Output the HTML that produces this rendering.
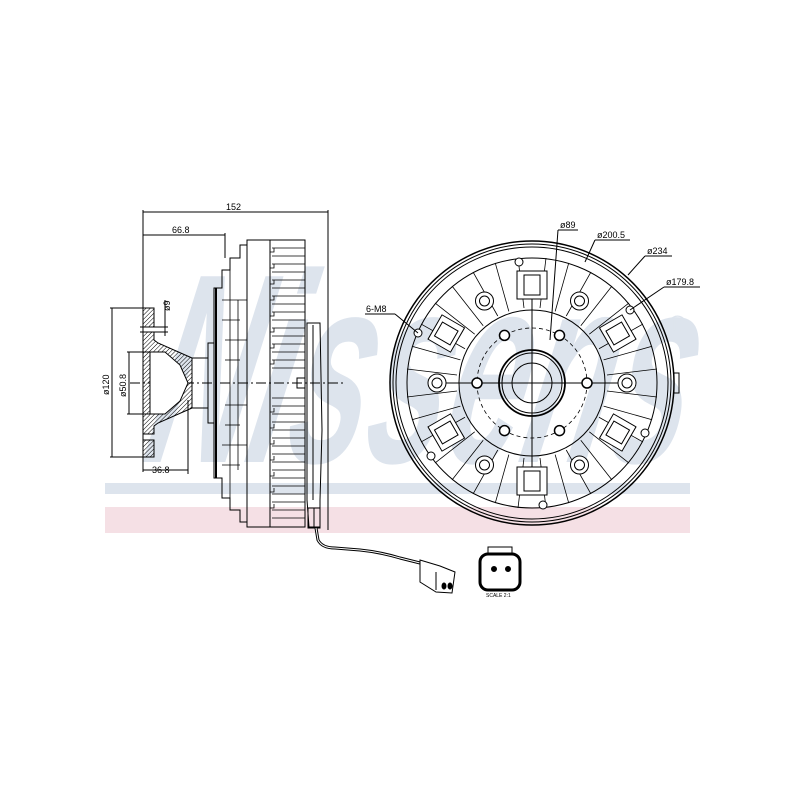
<!DOCTYPE html>
<html><head><meta charset="utf-8"><style>html,body{margin:0;padding:0;background:#fff}svg{display:block}</style></head>
<body>
<svg width="800" height="800" viewBox="0 0 800 800" xmlns="http://www.w3.org/2000/svg" font-family="Liberation Sans, sans-serif">
<defs>
<pattern id="h" width="3" height="3" patternUnits="userSpaceOnUse" patternTransform="rotate(45)"><line x1="0" y1="0" x2="0" y2="3" stroke="#000" stroke-width="1"/></pattern>
</defs>
<!-- watermark -->
<text x="0" y="0" font-size="270" font-weight="bold" font-style="italic" fill="#dde4ed" textLength="540" lengthAdjust="spacingAndGlyphs" transform="translate(140,462) skewX(-12)">Nissens</text>
<text x="668" y="334" font-size="26" fill="#dde4ed">®</text>
<rect x="105" y="483" width="585" height="11" fill="#dde4ed"/>
<rect x="105" y="507" width="585" height="26" fill="#f5e0e5"/>

<g stroke="#000" fill="none" stroke-width="1">
<!-- dimensions left -->
<line x1="143" y1="212" x2="328" y2="212"/>
<line x1="143" y1="235" x2="225" y2="235"/>
<line x1="143" y1="210" x2="143" y2="472"/>
<line x1="328" y1="210" x2="328" y2="530"/>
<line x1="225" y1="233" x2="225" y2="258"/>
<line x1="110" y1="308" x2="143" y2="308"/>
<line x1="110" y1="457" x2="143" y2="457"/>
<line x1="112" y1="308" x2="112" y2="457"/>
<line x1="127" y1="352" x2="150" y2="352"/>
<line x1="127" y1="414" x2="150" y2="414"/>
<line x1="129" y1="352" x2="129" y2="414"/>
<line x1="165" y1="300" x2="165" y2="336"/>
<line x1="140" y1="327" x2="168" y2="327"/>
<line x1="140" y1="332" x2="168" y2="332"/>
<line x1="143" y1="470" x2="188" y2="470"/>
<line x1="188" y1="400" x2="188" y2="474"/>
<line x1="130" y1="383" x2="345" y2="383" stroke-dasharray="10,3,2,3"/>
<!-- flange hatched -->
<path d="M143,308 L154,308 L154,327 L143,327 Z M143,332 L154,332 L154,340 L158,343 L192,358 L192,408 L158,423 L154,426 L154,434 L143,434 Z M143,440 L154,440 L154,457 L143,457 Z" fill="url(#h)"/>
<path d="M150,352 L165,352 L180,365 L188,383 L180,401 L165,414 L150,414 Z" fill="#fff"/>
<rect x="192" y="358" width="16" height="50"/>
<rect x="208" y="343" width="6" height="80"/>
<!-- plate steps -->
<path d="M214,288 L222,288 L222,270 L230,270 L230,258 L240,258 L240,245 L247,245 L247,522 L240,522 L240,510 L230,510 L230,498 L222,498 L222,478 L214,478 Z"/>
<g stroke-width="0.8">
<line x1="222" y1="300" x2="247" y2="300"/><line x1="222" y1="320" x2="240" y2="320"/><line x1="225" y1="340" x2="247" y2="340"/><line x1="225" y1="360" x2="240" y2="360"/><line x1="225" y1="405" x2="247" y2="405"/><line x1="225" y1="425" x2="240" y2="425"/><line x1="222" y1="445" x2="247" y2="445"/><line x1="222" y1="465" x2="240" y2="465"/>
<line x1="230" y1="270" x2="230" y2="498"/><line x1="238" y1="300" x2="238" y2="470"/>
</g>
<line x1="216" y1="288" x2="216" y2="478" stroke-width="2"/>
<!-- fan body -->
<rect x="247" y="240" width="58" height="287"/>
<line x1="270" y1="240" x2="270" y2="527"/>
<g stroke-width="0.8">
<path d="M272,248 H305 M272,256 H305 M272,264 H305 M272,272 H305 M272,280 H305 M272,288 H305 M272,296 H305 M272,304 H305 M272,312 H305 M272,320 H305 M272,328 H305 M272,336 H305 M272,344 H305 M272,352 H305 M272,360 H305 M272,368 H305 M272,398 H305 M272,406 H305 M272,414 H305 M272,422 H305 M272,430 H305 M272,438 H305 M272,446 H305 M272,454 H305 M272,462 H305 M272,470 H305 M272,478 H305 M272,486 H305 M272,494 H305 M272,502 H305 M272,510 H305 M272,518 H305"/>
<path d="M270,252 h4 v-4 M270,268 h4 v-4 M270,284 h4 v-4 M270,300 h4 v-4 M270,316 h4 v-4 M270,332 h4 v-4 M270,348 h4 v-4 M270,364 h4 v-4 M270,412 h4 v-4 M270,428 h4 v-4 M270,444 h4 v-4 M270,460 h4 v-4 M270,476 h4 v-4 M270,492 h4 v-4 M270,508 h4 v-4"/>
</g>
<rect x="297" y="378" width="8" height="10"/>
<!-- sensor board -->
<path d="M307,323 L320,323 L322,430 L320,500 L320,527 L309,527 L307,500 Z"/>
<line x1="313" y1="325" x2="313" y2="500"/>
<rect x="308" y="508" width="12" height="20"/>
<line x1="314" y1="508" x2="314" y2="528"/>
<!-- wire -->
<path d="M316,528 L318,540 Q322,548 335,548 L360,550 Q380,552 400,558 L420,563" stroke-width="3"/>
<path d="M316,528 L318,540 Q322,548 335,548 L360,550 Q380,552 400,558 L420,563" stroke="#fff" stroke-width="1"/>
<path d="M420,560 L440,566 L455,572 L452,593 L436,592 L420,582 Z" fill="#fff"/>
<line x1="436" y1="572" x2="436" y2="590"/>
<ellipse cx="444" cy="586" rx="2" ry="3" fill="#000"/><ellipse cx="450" cy="586" rx="2" ry="3" fill="#000"/>
<!-- small connector -->
<rect x="488" y="547" width="24" height="8"/>
<rect x="480" y="554" width="40" height="36" rx="8" stroke-width="3"/>
<circle cx="494" cy="569" r="2.5" fill="#000"/><circle cx="508" cy="569" r="2.5" fill="#000"/>

<!-- right view -->
<g transform="translate(532,383)">
<circle r="142" stroke-width="1.5"/>
<circle r="139"/>
<circle r="136"/>
<circle r="125"/>
<circle r="73"/>
<circle r="55" stroke-dasharray="4,3" stroke-width="0.8"/>
<circle r="33" stroke-width="1.8"/>
<circle r="30"/>
<circle r="20"/>
<line x1="-95" y1="0" x2="95" y2="0"/>
<line x1="0" y1="-95" x2="0" y2="95"/>
<g stroke-width="0.8">
<path d="M75,8 L125,14 M75,-8 L125,-14 M-75,8 L-125,14 M-75,-8 L-125,-14 M8,75 L14,125 M-8,75 L-14,125 M8,-75 L14,-125 M-8,-75 L-14,-125"/>
<g transform="rotate(22.5)"><path d="M75,6 L125,12 M75,-6 L125,-12 M-75,6 L-125,12 M-75,-6 L-125,-12 M6,75 L12,125 M-6,75 L-12,125 M6,-75 L12,-125 M-6,-75 L-12,-125"/></g>
<g transform="rotate(45)"><path d="M75,6 L125,12 M75,-6 L125,-12 M-75,6 L-125,12 M-75,-6 L-125,-12 M6,75 L12,125 M-6,75 L-12,125 M6,-75 L12,-125 M-6,-75 L-12,-125"/></g>
<g transform="rotate(67.5)"><path d="M75,6 L125,12 M75,-6 L125,-12 M-75,6 L-125,12 M-75,-6 L-125,-12 M6,75 L12,125 M-6,75 L-12,125 M6,-75 L12,-125 M-6,-75 L-12,-125"/></g>
</g>
<g fill="#fff">
<g transform="rotate(0)"><rect x="-15" y="-112" width="30" height="28"/><rect x="-8" y="-108" width="16" height="20"/></g>
<g transform="rotate(180)"><rect x="-15" y="-112" width="30" height="28"/><rect x="-8" y="-108" width="16" height="20"/></g>
<g transform="rotate(-60)"><rect x="-14" y="-112" width="28" height="26"/><rect x="-8" y="-108" width="16" height="18"/></g>
<g transform="rotate(60)"><rect x="-14" y="-112" width="28" height="26"/><rect x="-8" y="-108" width="16" height="18"/></g>
<g transform="rotate(-120)"><rect x="-14" y="-112" width="28" height="26"/><rect x="-8" y="-108" width="16" height="18"/></g>
<g transform="rotate(120)"><rect x="-14" y="-112" width="28" height="26"/><rect x="-8" y="-108" width="16" height="18"/></g>
</g>
<rect x="142" y="-10" width="5" height="20"/>
<!-- bolts -->
<g fill="#fff" stroke-width="1.5">
<circle cx="55" cy="0" r="5"/><circle cx="-55" cy="0" r="5"/>
<circle cx="27.5" cy="-47.6" r="5"/><circle cx="-27.5" cy="-47.6" r="5"/>
<circle cx="27.5" cy="47.6" r="5"/><circle cx="-27.5" cy="47.6" r="5"/>
</g>
<g fill="#fff">
<circle cx="95" cy="0" r="9"/><circle cx="95" cy="0" r="5"/>
<circle cx="-95" cy="0" r="9"/><circle cx="-95" cy="0" r="5"/>
<circle cx="47.5" cy="-82" r="9"/><circle cx="47.5" cy="-82" r="5"/>
<circle cx="-47.5" cy="-82" r="9"/><circle cx="-47.5" cy="-82" r="5"/>
<circle cx="47.5" cy="82" r="9"/><circle cx="47.5" cy="82" r="5"/>
<circle cx="-47.5" cy="82" r="9"/><circle cx="-47.5" cy="82" r="5"/>
</g>
<g fill="#fff">
<circle cx="-114" cy="-50" r="4"/><circle cx="-13" cy="-121" r="4"/><circle cx="98" cy="-73" r="4"/>
<circle cx="113" cy="50" r="4"/><circle cx="11" cy="122" r="4"/><circle cx="-101" cy="73" r="4"/>
</g>
</g>
<!-- leaders -->
<line x1="558" y1="230" x2="578" y2="230"/><line x1="558" y1="230" x2="550" y2="340"/>
<line x1="595" y1="240" x2="630" y2="240"/><line x1="595" y1="240" x2="585" y2="262"/>
<line x1="645" y1="256" x2="672" y2="256"/><line x1="645" y1="256" x2="628" y2="275"/>
<line x1="664" y1="287" x2="700" y2="287"/><line x1="664" y1="287" x2="630" y2="310"/>
<line x1="365" y1="314" x2="395" y2="314"/><line x1="395" y1="314" x2="418" y2="333"/>
</g>
<g font-size="9" fill="#000">
<text x="226" y="210">152</text>
<text x="172" y="233">66.8</text>
<text x="152" y="473">36.8</text>
<text x="0" y="0" transform="translate(109,395) rotate(-90)">ø120</text>
<text x="0" y="0" transform="translate(126,397) rotate(-90)">ø50.8</text>
<text x="0" y="0" transform="translate(170,311) rotate(-90)">ø9</text>
<text x="560" y="228">ø89</text>
<text x="597" y="238">ø200.5</text>
<text x="647" y="254">ø234</text>
<text x="666" y="285">ø179.8</text>
<text x="366" y="312">6-M8</text>
<text x="486" y="597" font-size="5">SCALE 2:1</text>
</g>
</svg>
</body></html>
